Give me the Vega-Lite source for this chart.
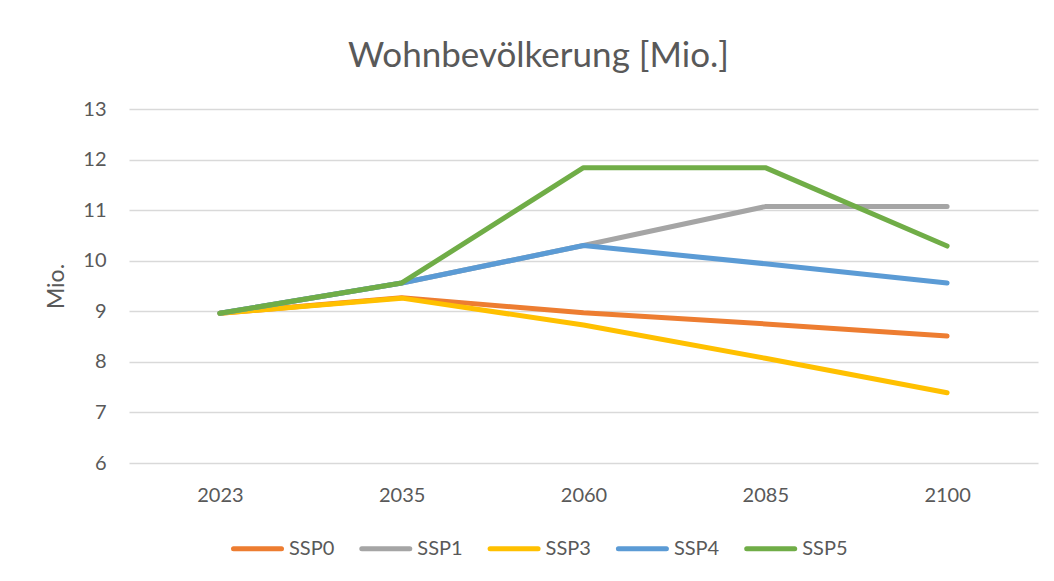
{
  "$schema": "https://vega.github.io/schema/vega-lite/v6.json",
  "autosize": "none",
  "width": 909,
  "height": 354,
  "padding": {"left": 129, "top": 109, "right": 16, "bottom": 118},
  "background": "white",
  "config": {
    "view": {"stroke": null},
    "font": "Lato",
    "axis": {"labelFont": "Lato", "titleFont": "Lato", "labelColor": "#595959", "titleColor": "#595959"}
  },
  "title": {
    "text": "Wohnbevölkerung [Mio.]",
    "font": "Lato",
    "fontSize": 35,
    "fontWeight": "normal",
    "color": "#595959",
    "anchor": "middle",
    "frame": "group",
    "dx": -45,
    "baseline": "alphabetic",
    "offset": -3
  },
  "data": {
    "values": [
      {"Jahr": "2023", "Szenario": "SSP0", "Mio": 8.96},
      {"Jahr": "2035", "Szenario": "SSP0", "Mio": 9.27},
      {"Jahr": "2060", "Szenario": "SSP0", "Mio": 8.97},
      {"Jahr": "2085", "Szenario": "SSP0", "Mio": 8.75},
      {"Jahr": "2100", "Szenario": "SSP0", "Mio": 8.51},
      {"Jahr": "2023", "Szenario": "SSP1", "Mio": 8.96},
      {"Jahr": "2035", "Szenario": "SSP1", "Mio": 9.56},
      {"Jahr": "2060", "Szenario": "SSP1", "Mio": 10.30},
      {"Jahr": "2085", "Szenario": "SSP1", "Mio": 11.07},
      {"Jahr": "2100", "Szenario": "SSP1", "Mio": 11.07},
      {"Jahr": "2023", "Szenario": "SSP3", "Mio": 8.96},
      {"Jahr": "2035", "Szenario": "SSP3", "Mio": 9.26},
      {"Jahr": "2060", "Szenario": "SSP3", "Mio": 8.73},
      {"Jahr": "2085", "Szenario": "SSP3", "Mio": 8.07},
      {"Jahr": "2100", "Szenario": "SSP3", "Mio": 7.39},
      {"Jahr": "2023", "Szenario": "SSP4", "Mio": 8.96},
      {"Jahr": "2035", "Szenario": "SSP4", "Mio": 9.56},
      {"Jahr": "2060", "Szenario": "SSP4", "Mio": 10.30},
      {"Jahr": "2085", "Szenario": "SSP4", "Mio": 9.94},
      {"Jahr": "2100", "Szenario": "SSP4", "Mio": 9.56},
      {"Jahr": "2023", "Szenario": "SSP5", "Mio": 8.96},
      {"Jahr": "2035", "Szenario": "SSP5", "Mio": 9.56},
      {"Jahr": "2060", "Szenario": "SSP5", "Mio": 11.84},
      {"Jahr": "2085", "Szenario": "SSP5", "Mio": 11.84},
      {"Jahr": "2100", "Szenario": "SSP5", "Mio": 10.29}
    ]
  },
  "mark": {"type": "line", "strokeWidth": 5, "strokeCap": "round", "strokeJoin": "round"},
  "encoding": {
    "x": {
      "field": "Jahr",
      "type": "ordinal",
      "scale": {"type": "point", "padding": 0.5},
      "axis": {
        "title": null,
        "labelAngle": 0,
        "labelFontSize": 20,
        "labelPadding": 22,
        "ticks": false,
        "domain": false,
        "grid": false
      }
    },
    "y": {
      "field": "Mio",
      "type": "quantitative",
      "scale": {"domain": [6, 13], "nice": false, "zero": false},
      "axis": {
        "title": "Mio.",
        "titleFontSize": 23,
        "titleFontWeight": "normal",
        "titlePadding": 14,
        "values": [6, 7, 8, 9, 10, 11, 12, 13],
        "labelFontSize": 20,
        "labelPadding": 23,
        "ticks": false,
        "domain": false,
        "grid": true,
        "gridColor": "#D9D9D9",
        "gridWidth": 1.5
      }
    },
    "color": {
      "field": "Szenario",
      "type": "nominal",
      "scale": {
        "domain": ["SSP0", "SSP1", "SSP3", "SSP4", "SSP5"],
        "range": ["#ED7D31", "#A5A5A5", "#FFC000", "#5B9BD5", "#70AD47"]
      },
      "legend": {
        "title": null,
        "orient": "none",
        "direction": "horizontal",
        "legendX": 102,
        "legendY": 413,
        "padding": 0,
        "symbolType": "stroke",
        "symbolSize": 2304,
        "symbolStrokeWidth": 5,
        "labelFontSize": 20,
        "labelColor": "#595959",
        "labelFont": "Lato",
        "labelOffset": 5,
        "columnPadding": 16.3,
        "encode": {"symbols": {"update": {"strokeCap": {"value": "round"}}}}
      }
    }
  }
}
